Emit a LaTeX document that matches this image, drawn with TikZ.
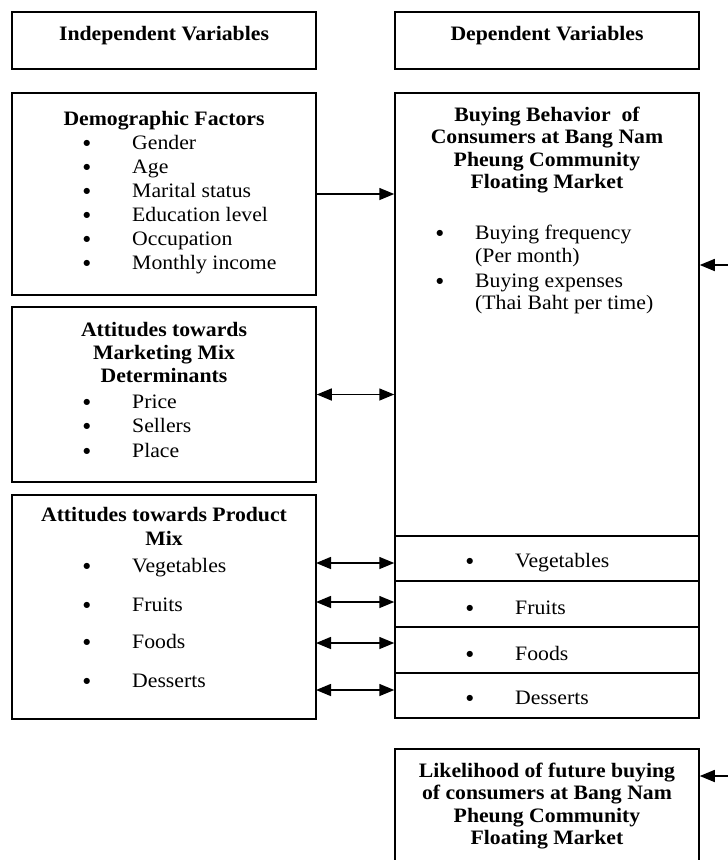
\documentclass[tikz,border=0pt]{standalone}
\usepackage{fontspec}
\setmainfont{Liberation Serif}[FakeStretch=1.06]
\newfontfamily\symfont{DejaVu Sans}
\usetikzlibrary{arrows.meta}
\newcommand\mybul[1]{\llap{\raisebox{3.6pt}{\symfont\fontsize{8}{8}\selectfont ●}\hspace{#1}}}
\begin{document}
\begin{tikzpicture}[x=1pt,y=-1pt,
  box/.style={draw,line width=1.5pt,inner sep=0,minimum width=304pt},
  ttl/.style={font=\bfseries\fontsize{20.5}{23}\selectfont,inner sep=0,anchor=base},
  itm/.style={font=\fontsize{20.5}{24}\selectfont,inner sep=0,anchor=base west},
  arr/.style={line width=1.5pt,-{Triangle[length=15pt,width=12pt]}},
  dbl/.style={line width=1.5pt,{Triangle[length=15pt,width=12pt]}-{Triangle[length=15pt,width=12pt]}}]
\useasboundingbox (0,0) rectangle (728,860);
% boxes
\node[box,minimum height=57pt] (indep) at (164,40.5) {};
\node[box,minimum height=57pt] (dep) at (547,40.5) {};
\node[box,minimum height=202pt] (demo) at (164,194) {};
\node[box,minimum height=175pt] (mkt) at (164,394.5) {};
\node[box,minimum height=224pt] (prod) at (164,607) {};
\node[box,minimum height=443pt] (bb) at (547,314.5) {};
\node[box,minimum height=45pt] (c1) at (547,558.5) {};
\node[box,minimum height=46pt] (c2) at (547,604) {};
\node[box,minimum height=46pt] (c3) at (547,650) {};
\node[box,minimum height=45pt] (c4) at (547,695.5) {};
\node[box,minimum height=131pt] (lik) at (547,814.5) {};
% titles
\node[ttl] (tindep) at (164,40) {Independent Variables};
\node[ttl] (tdep) at (547,40) {Dependent Variables};
\node[ttl] (tdemo) at (164,125) {Demographic Factors};
\foreach \t/\y [count=\i] in {Attitudes towards/336, Marketing Mix/359, Determinants/382}
  \node[ttl] (tm\i) at (164,\y) {\t};
\foreach \t/\y [count=\i] in {Attitudes towards Product/521, Mix/545}
  \node[ttl] (tp\i) at (164,\y) {\t};
\foreach \t/\y [count=\i] in {Buying Behavior~ of/121, Consumers at Bang Nam/143.5, Pheung Community/166, Floating Market/188}
  \node[ttl] (tb\i) at (547,\y) {\t};
\foreach \t/\y [count=\i] in {Likelihood of future buying/777, of consumers at Bang Nam/799.5, Pheung Community/822, Floating Market/844}
  \node[ttl] (tl\i) at (547,\y) {\t};
% items
\foreach \t/\y [count=\i] in {Gender/149, Age/173, Marital status/197, Education level/221, Occupation/245, Monthly income/269}
  \node[itm] (d\i) at (132,\y) {\mybul{41.9pt}\t};
\foreach \t/\y [count=\i] in {Price/408, Sellers/432.5, Place/457}
  \node[itm] (m\i) at (132,\y) {\mybul{41.9pt}\t};
\foreach \t/\y [count=\i] in {Vegetables/572, Fruits/611, Foods/648, Desserts/687}
  \node[itm] (p\i) at (132,\y) {\mybul{41.9pt}\t};
\node[itm] (b1) at (475,239) {\mybul{31.9pt}Buying frequency};
\node[itm] (b2) at (475,262) {(Per month)};
\node[itm] (b3) at (475,287) {\mybul{31.9pt}Buying expenses};
\node[itm] (b4) at (475,309) {(Thai Baht per time)};
\foreach \t/\y [count=\i] in {Vegetables/567, Fruits/614, Foods/660, Desserts/704}
  \node[itm] (q\i) at (515,\y) {\mybul{41.9pt}\t};
% connectors
\draw[arr] (demo.east) -- (demo.east -| bb.west);
\draw[dbl] (mkt.east) -- (mkt.east -| bb.west);
\coordinate (a1) at (316,563);
\coordinate (a2) at (316,602);
\coordinate (a3) at (316,643);
\coordinate (a4) at (316,690);
\foreach \i in {1,...,4}
  \draw[dbl] (a\i) -- (a\i -| bb.west);
\coordinate (r1) at (740,265);
\coordinate (r2) at (740,776);
\draw[arr] (r1) -- (r1 -| bb.east);
\draw[arr] (r2) -- (r2 -| lik.east);
\end{tikzpicture}
\end{document}
